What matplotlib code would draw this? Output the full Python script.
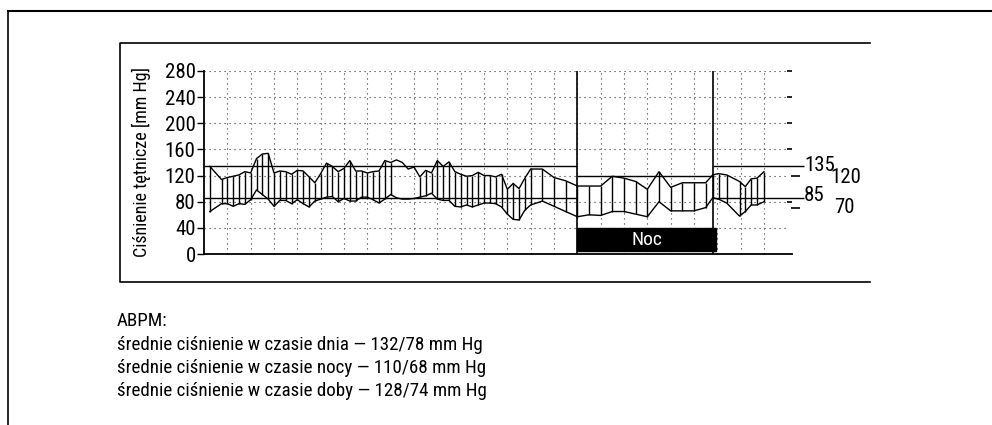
import numpy as np
import matplotlib
matplotlib.use('Agg')
import matplotlib.pyplot as plt
from matplotlib import font_manager
from matplotlib.lines import Line2D
from matplotlib.patches import Rectangle

names = {f.name for f in font_manager.fontManager.ttflist}
narrow = next((n for n in ['Liberation Sans Narrow', 'Roboto Condensed', 'DejaVu Sans']
               if n in names), 'DejaVu Sans')
plt.rcParams['font.family'] = [narrow, 'DejaVu Sans']

# pomiary: godzina od poczatku zapisu, skurczowe, rozkurczowe, czy kreskowane
hours = [0.25, 0.75, 1.0, 1.25, 1.5, 1.75, 2.0, 2.25, 2.5, 2.75, 3.0, 3.25, 3.5, 3.75,
         4.0, 4.25, 4.5, 4.75, 5.0, 5.25, 5.5, 5.75, 6.0, 6.25, 6.5, 6.75, 7.0, 7.25,
         7.5, 7.75, 8.0, 8.25, 8.5, 8.75, 9.0, 9.25, 9.5, 9.75, 10.0, 10.25, 10.5,
         10.75, 11.0, 11.25, 11.5, 11.75, 12.0, 12.25, 12.5, 12.75, 13.0, 13.25, 13.5,
         13.75, 14.0, 14.5, 15.0, 15.5, 16.0,
         16.5, 17.0, 17.5, 18.0, 18.5, 19.0, 19.5, 20.0, 20.5, 21.0, 21.5, 21.8,
         22.05, 22.4, 22.95, 23.2, 23.45, 23.7, 24.0]
sys_bp = [134, 114, 117, 119, 121, 126, 124, 146, 153, 154, 124, 127, 126, 122,
          128, 127, 118, 109, 123, 139, 134, 126, 131, 143, 127, 127, 124, 126,
          127, 143, 140, 144, 140, 130, 133, 118, 128, 124, 143, 134, 141,
          126, 122, 119, 120, 125, 120, 120, 118, 122, 99, 108, 100,
          116, 130, 130, 117, 112, 104,
          104, 104, 119, 116, 111, 99, 126, 102, 109, 109, 109, 121,
          123, 121, 111, 103, 115, 116, 126]
dia_bp = [65, 77, 77, 73, 77, 76, 83, 98, 91, 84, 73, 82, 82, 77,
          83, 77, 72, 81, 84, 87, 88, 80, 85, 81, 81, 87, 87, 83,
          78, 84, 91, 86, 84, 84, 85, 87, 89, 93, 84, 82, 82,
          73, 72, 75, 72, 75, 78, 78, 77, 72, 61, 53, 52,
          67, 75, 81, 73, 65, 57,
          60, 59, 65, 65, 61, 57, 80, 66, 66, 66, 71, 86,
          84, 78, 58, 65, 75, 75, 80]
missing = [8.25, 8.5, 8.75, 9.0]

night = (16.0, 21.8)
y_ticks = [0, 40, 80, 120, 160, 200, 240, 280]

hours = np.array(hours)
sys_bp = np.array(sys_bp)
dia_bp = np.array(dia_bp)
hatched = ~np.isin(hours, missing)

fig = plt.figure(figsize=(9.92, 4.25), dpi=100)
ax = fig.add_axes([204/992, 1-254/425, 588/992, 183/425])
ax.set_xlim(0, 25.2)
ax.set_ylim(0, 280)

dots = (0, (1, 3.5))
ax.hlines(y_ticks[1:], 0, 25.0, colors='#333333', linestyles=dots, lw=0.8)
ax.vlines(np.arange(1, 25), 0, 280, colors='#333333', linestyles=dots, lw=0.8)

# progi dzien / noc
ax.hlines([135, 85], 0, night[0], colors='k', lw=1)
ax.hlines(120, night[0], night[1], colors='k', lw=1)
ax.hlines([135, 85], night[1], 25.7, colors='k', lw=1, clip_on=False)
ax.vlines(list(night), 0, 280, colors='k', lw=1.2)

ax.plot(hours, sys_bp, color='k', lw=1)
ax.plot(hours, dia_bp, color='k', lw=1)
ax.vlines(hours[hatched], dia_bp[hatched], sys_bp[hatched], colors='k', lw=1)

ax.add_patch(Rectangle((night[0], 5), 5.95, 35, color='k', zorder=3))
ax.text((night[0] + 21.95) / 2, 21, 'Noc', color='white', ha='center', va='center',
        fontsize=14, zorder=4)

ax.hlines([280, 240, 200, 160, 80], 25.0, 25.2, colors='k', lw=1.2, clip_on=False)
ax.hlines([120, 70], 25.15, 25.55, colors='k', lw=1.2, clip_on=False)
ax.text(25.72, 136, '135', va='center', fontsize=15)
ax.text(26.85, 117, '120', va='center', fontsize=15)
ax.text(25.72, 89, '85', va='center', fontsize=15)
ax.text(27.0, 71, '70', va='center', fontsize=15)

for s in ['top', 'right']:
    ax.spines[s].set_visible(False)
ax.spines['left'].set_linewidth(1.3)
ax.spines['bottom'].set_linewidth(1.3)
ax.set_xticks([])
ax.set_yticks(y_ticks)
ax.tick_params(axis='y', length=5, width=1, pad=1, labelsize=15)

fig.text(141/992, 1-162/425, 'Ciśnienie tętnicze [mm Hg]', rotation=90,
         ha='center', va='center', fontsize=13)

# ramki
fig.add_artist(Line2D([8/992, 1], [1-11/425, 1-11/425], color='k', lw=1.5))
fig.add_artist(Line2D([8/992, 8/992], [0, 1-11/425], color='k', lw=1.2))
fig.add_artist(Line2D([870/992, 120/992, 120/992, 870/992],
                      [1-43/425, 1-43/425, 1-282/425, 1-282/425], color='k', lw=1.2))

lines = ['ABPM:',
         'średnie ciśnienie w czasie dnia — 132/78 mm Hg',
         'średnie ciśnienie w czasie nocy — 110/68 mm Hg',
         'średnie ciśnienie w czasie doby — 128/74 mm Hg']
for i, t in enumerate(lines):
    fig.text(117/992, 1-(326 + 23.5*i)/425, t, va='baseline', fontsize=13.7)

fig.savefig('out.png', dpi=100)
